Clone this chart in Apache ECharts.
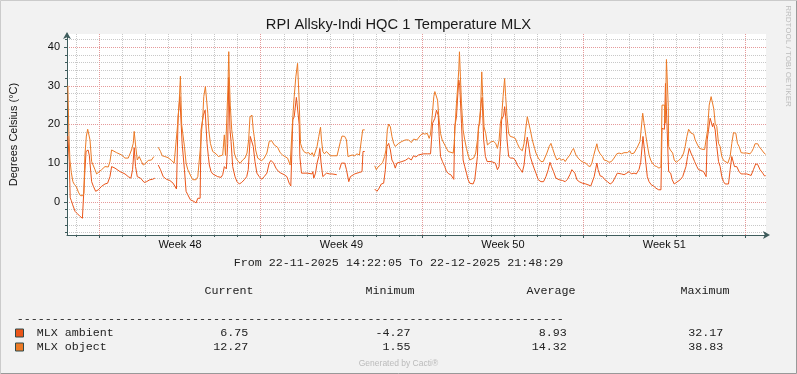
<!DOCTYPE html>
<html><head><meta charset="utf-8">
<script src="https://cdn.jsdelivr.net/npm/echarts@6/dist/echarts.min.js"></script>
<style>html,body{margin:0;padding:0;background:#F2F2F2}#c{width:797px;height:374px}</style>
</head><body><div id="c"></div>
<script>
// x values: hours since 2025-11-22 00:00 (graph runs 14:22:05 on 22-11 to 21:48:29 on 22-12)
const xStart = 14.368, xEnd = 741.81;
const dayLines = [24,72,96,120,144,168,192,240,264,288,312,336,360,408,432,456,480,504,528,576,600,624,648,672,696];
const mondayLines = [48,216,384,552,720];
const weekCenters = [132,300,468,636];
const weekLabels = ['Week 48','Week 49','Week 50','Week 51'];
const yMinorTicks = [-8,-6,-4,-2,2,4,6,8,12,14,16,18,22,24,26,28,32,34,36,38,42];
const yMajorTicks = [0,10,20,30,40];
const yMin = -8.6, yMax = 43.4;

const seriesNames = ['MLX ambient','MLX object'];
const seriesColors = ['#EA5519','#EC7A26'];
const statHeaders = ['Current','Minimum','Average','Maximum'];
const currentVals = ['6.75','12.27'];
const minimumVals = ['-4.27','1.55'];
const averageVals = ['8.93','14.32'];
const maximumVals = ['32.17','38.83'];

const objectData = [[15.3,30],[16.3,17.8],[17.4,10.8],[18.9,7.5],[20.5,5.2],[22.0,4.5],[24.1,3.9],[26.2,2.5],[28.3,1.6],[30.4,1.55],[31.9,2.2],[33.0,12],[34.5,17],[35.9,18.75],[38.3,16],[40.0,10.4],[41.8,10],[43.5,8.3],[45.2,7.2],[47.0,7.4],[50.4,8.3],[53.9,9.1],[57.3,9],[59.1,10.4],[60.8,13.4],[62.5,13.2],[66.0,12.7],[71.2,12.1],[74.7,11.3],[78.1,11.3],[81.5,13.4],[83.3,15.1],[84.3,18.2],[85.7,14.7],[87.5,10.8],[89.5,11.7],[91.9,10.4],[93.7,9.5],[96.5,10],[98.9,10.7],[102.3,10.8],[104.8,11.7],[107.0,null],[109.3,14.1],[111.7,13],[113.4,11.9],[116.2,11.7],[119.6,11.4],[123.1,10.7],[125.9,10],[127.4,9.5],[129.5,20],[131.1,25.5],[132.4,32.5],[133.1,32.5],[133.7,20],[136.6,14.3],[138.3,10],[140.1,8.3],[143.5,6.5],[145.3,5.7],[148.7,5.7],[150.5,6.5],[152.1,7],[153.2,14],[154.6,18.6],[155.7,22],[156.7,27.2],[158.4,29.8],[159.4,29.8],[160.9,22.9],[161.9,18.6],[163.6,15.1],[166.0,13],[167.7,12.7],[169.5,12.4],[171.9,11.7],[173.9,11.4],[176.4,12.1],[178.1,17.3],[179.3,12],[180.4,11.5],[181.9,30],[182.7,38.83],[183.3,32],[184.3,25],[185.8,18.6],[187.4,15.6],[188.5,12.6],[190.2,11.3],[192.6,10.4],[194.7,10],[197.2,10.8],[199.6,11.3],[201.7,12.6],[203.4,16],[204.8,22],[206.9,22.4],[208.2,18.6],[209.2,16.9],[210.7,13.4],[212.8,11.3],[214.4,10.8],[216.9,10.6],[219.6,11.3],[222.4,12.6],[224.8,15.6],[227.3,15.8],[230.0,14.7],[233.5,14.1],[236.2,12.7],[238.7,12.1],[241.1,11.7],[243.9,11.3],[246.6,9.5],[248.1,9.3],[249.4,22],[250.8,27.2],[252.5,32.3],[254.3,35.8],[255.1,35.8],[256.0,26],[256.7,20.3],[257.4,15.1],[259.1,13.8],[260.8,13],[263.2,12.6],[266.0,12.7],[267.8,12.1],[269.5,12.7],[271.2,11.7],[273.0,12.1],[274.6,14.3],[276.4,16.9],[278.2,19.3],[279.2,16],[280.6,13],[282.3,12.4],[284.4,13],[286.1,12.7],[288.6,11.9],[292.0,11.9],[295.4,11.9],[297.2,11.9],[298.9,15.6],[300.6,17],[303.4,16.9],[305.2,16],[306.8,11.7],[308.6,11.3],[311.0,12.1],[313.8,11.9],[316.2,12.4],[318.7,12.1],[320.7,12.6],[322.1,18.6],[324.2,18.6],[329,null],[334.6,9.3],[336.3,8.3],[338.0,9],[340.5,9.5],[342.9,10.2],[344.9,11.7],[346.3,13.4],[347.7,18.6],[349.1,20.1],[350.9,19.4],[352.5,16.9],[354.3,15.1],[356.0,14.3],[357.7,14.7],[359.5,15.1],[362.9,15.6],[366.4,16],[369.9,16],[372.7,15.3],[375.0,16.2],[378.5,16],[379.9,16.4],[381.6,17],[384.4,17.7],[386.8,17.5],[389.3,17.7],[391.3,16.4],[392.7,17.5],[394.5,22.4],[396.1,27.2],[397.2,28.5],[398.9,28.5],[400.0,26.3],[401.3,22],[403.1,17.7],[404.8,16],[407.5,14.7],[409.3,14.3],[411.1,13],[412.7,12.7],[416.3,12.6],[417.3,15],[418.3,19.9],[419.7,25.5],[420.7,28.9],[422.1,34.1],[422.8,38.8],[423.8,32.3],[424.9,25.5],[426.6,18.6],[428.3,16],[430.1,13.8],[431.8,12.1],[433.5,10.8],[435.3,10.4],[437.6,11.3],[439.7,12.6],[441.5,16],[443.3,20.3],[444.9,24.6],[446.0,33.6],[447.0,27.2],[448.4,19.4],[450.1,17.7],[451.9,14.7],[453.6,14.3],[456.0,15.6],[458.4,15.6],[460.5,15.1],[462.3,13.8],[464.0,15.9],[465.4,20.3],[466.7,22],[468.2,27.2],[469.8,31.9],[470.9,27.2],[472.3,22],[474.0,17.7],[475.7,16.9],[478.6,16.7],[480.9,16.4],[483.0,15.1],[485.4,13.8],[488.2,13.2],[490.0,15.1],[491.6,18.6],[493.4,22],[494.7,21.8],[496.5,18.6],[498.6,16],[501.0,13.8],[502.4,12.6],[504.8,11.3],[507.6,10.4],[510.0,10.4],[511.8,10.8],[513.8,12.6],[516.2,14.3],[518.0,15.1],[519.7,13.8],[522.2,11.9],[524.2,10.8],[526.6,11.3],[529.0,10.8],[531.1,11],[532.8,10.4],[535.2,11.3],[537.7,12.1],[539.8,13.2],[541.5,13.8],[544.0,12.1],[546.3,11.3],[549.1,10.6],[551.8,10.2],[554.3,10],[556.7,9.3],[558.8,9.1],[560.6,10],[562.2,11.7],[564.0,13.4],[565.8,15],[567.1,13.4],[569.2,12.4],[571.6,11.7],[573.3,10.8],[576.1,10.6],[578.5,10.2],[580.9,10.4],[583.7,11.3],[586.5,12.4],[588.9,12.6],[591.3,12.4],[594.1,12.7],[597.5,12.7],[600.0,13.2],[601.7,12.4],[604.5,12.6],[606.2,12.4],[607.9,14.1],[610.7,15.6],[612.1,16],[613.5,22.9],[614.9,20.3],[616.9,16.9],[618.3,14.7],[620.1,12.1],[621.8,10.8],[623.5,10],[626.0,9.3],[628.1,9.1],[630.4,8.7],[632.5,9],[633.6,25],[636.1,25],[637.0,20.3],[638.2,36.8],[639.5,36.8],[640.1,24.6],[640.5,14.3],[642.2,13.4],[644.7,12.6],[646.3,10.8],[648.4,10.2],[650.9,10.7],[653.6,11.3],[656.1,12.6],[657.7,14.3],[659.5,16.9],[661.3,18.75],[662.9,18.6],[664.0,17.7],[666.5,17.5],[668.1,16],[670.6,14.7],[672.7,13.8],[675.1,13.6],[677.9,13.5],[679.5,13.4],[681.0,18.6],[682.7,25],[684.7,27.2],[686.5,27.6],[687.5,24],[688.9,20.3],[690.6,19.5],[692.4,15.1],[694.1,14.3],[695.8,11.7],[697.6,10.7],[699.3,10.2],[702.1,10],[704.5,11.7],[706.2,15.1],[708.0,17.9],[710.4,17.7],[712.1,15.1],[713.8,14.3],[715.9,12.7],[718.4,12.6],[721.8,12.6],[725.2,12.4],[727.0,13],[728.7,13.8],[730.4,15],[733.2,15],[734.6,14.3],[737.4,13.4],[739.8,12.6],[741.5,12.27]];

const ambientData = [[15.3,17],[16.7,10.5],[17.7,1],[18.9,0.3],[20.3,-0.8],[22.8,-2.5],[25.2,-3.1],[28.0,-3.8],[30.4,-4.27],[32.1,-4],[33.0,8],[34.2,13],[36.3,13.4],[37.6,12],[40.0,5.2],[41.8,4],[44.2,2.7],[47.0,3.1],[50.4,4],[53.9,4.6],[56.6,4.8],[59.1,6.5],[60.8,9.1],[64.3,8.7],[69.5,7.8],[74.7,7.2],[78.1,6.5],[80.9,6.1],[82.6,8.3],[84.3,14],[85.7,9.1],[87.5,6.5],[90.9,6.1],[94.7,5],[97.1,5.2],[100.6,5.7],[103.3,5.8],[105.8,6.1],[107.5,null],[109.3,9.5],[111.7,8.3],[114.5,6.5],[117.9,5.8],[121.4,5.5],[124.8,4.8],[126.6,4.4],[128.3,3.3],[130.0,22],[131.8,27.2],[133.1,27],[134.2,15],[136.6,8.3],[138.3,2.7],[140.1,1.8],[142.8,0.5],[146.3,0.1],[148.7,-0.3],[150.5,0.9],[152.9,0.9],[153.9,18.6],[156.3,22.4],[158.1,23.7],[160.1,15.1],[161.5,11.7],[162.5,9.5],[164.3,7.8],[166.0,7.2],[167.7,7],[171.2,6.5],[174.7,6.3],[176.4,7],[178.1,9.1],[180.2,8.5],[181.6,15],[182.7,32.17],[184.0,18.6],[185.1,15.6],[186.8,9.1],[189.2,6.5],[191.3,5.2],[193.7,4.6],[196.2,5],[198.9,5.7],[201.4,6.5],[203.0,8.3],[205.1,16.9],[206.5,17.3],[208.2,14.3],[210.0,10.4],[212.0,7.4],[214.4,6.5],[216.9,5.8],[219.6,6.5],[222.4,7.4],[224.8,10],[226.6,10.7],[229.4,10],[231.8,8.7],[234.6,7.8],[237.0,7.4],[240.4,7],[243.2,6.5],[245.6,4.8],[247.3,4.1],[248.4,4.1],[249.4,21.2],[250.8,22],[253.1,27],[256.0,20],[256.7,11.7],[258.4,7.4],[259.8,7.4],[264.3,7.4],[269.5,7.2],[270.2,7.8],[271.2,6.1],[273.0,7.4],[274.6,10],[276.4,11.7],[277.5,13.8],[278.8,10],[280.6,6.5],[282.6,6.5],[284.4,7.4],[286.1,7.8],[287.8,7.2],[290.2,7.2],[292.0,7],[295.1,7],[296.5,null],[297.9,8.3],[300.0,10],[301.6,10.2],[303.4,10],[305.2,8.3],[307.6,5.2],[309.3,6.5],[311.0,7],[313.8,7.2],[316.2,7.4],[319.0,7.6],[321.4,7.8],[322.4,13],[324.2,13],[329,null],[334.6,3.3],[336.9,2.7],[338.7,3.3],[341.5,4.6],[343.9,4.8],[345.7,8.3],[347.3,14.3],[349.1,15.1],[350.9,13.4],[352.5,10.8],[354.3,10],[356.0,8.7],[357.7,10],[359.5,10.4],[362.9,10.4],[366.4,10.7],[369.9,11.3],[372.7,10.8],[375.0,11.9],[377.4,11.6],[380.2,12.1],[382.0,12.6],[385.1,12.4],[386.8,12.1],[389.3,12.4],[391.3,12.1],[392.7,12.4],[393.7,16],[394.8,20.3],[397.2,21.6],[398.9,23.7],[400.7,22.4],[401.7,16.9],[403.1,11.7],[405.1,10.4],[407.5,9.1],[409.3,7.8],[411.7,7.2],[413.8,7],[415.5,6.5],[416.9,5.8],[417.9,19.4],[419.7,22],[420.7,26.3],[422.1,31.5],[423.1,30],[424.9,20.3],[426.6,10.8],[428.3,9.1],[430.1,7.4],[431.8,5.7],[433.5,4.8],[435.3,4.6],[437.0,4.6],[438.7,5.7],[440.4,6.1],[441.5,11.7],[442.5,19.4],[443.9,20.3],[445.3,25.5],[446.4,27],[448.0,16],[449.8,11.7],[451.6,10.4],[453.6,10.6],[456.0,10.4],[457.8,10.2],[460.2,10],[462.3,8.3],[464.0,9.1],[465.4,14.3],[466.7,21.2],[468.8,22.4],[469.8,24.6],[470.9,22],[472.3,16],[474.0,11.7],[476.1,11.3],[478.6,11.3],[480.9,10.8],[483.0,9.5],[484.8,9.1],[486.4,8.3],[488.2,7.6],[490.0,9.5],[491.6,13.4],[493.4,16.7],[494.7,14.7],[496.5,11.7],[498.6,10],[500.4,8.7],[502.4,7.4],[504.8,5.7],[507.6,5.2],[510.3,5.2],[512.8,6.5],[515.2,8.3],[517.0,10.2],[518.6,9.1],[520.7,7.8],[523.2,6.1],[526.6,5.7],[530.0,5.5],[532.8,5.2],[535.2,5.8],[537.7,7],[539.8,8.3],[541.5,8.7],[542.9,7.4],[545.0,5.7],[547.4,5.2],[550.8,4.8],[554.3,4.6],[556.0,4.1],[559.5,4.1],[561.2,4.6],[563.0,6.5],[564.7,8.7],[565.8,10],[567.1,8.3],[569.2,6.7],[571.6,6.5],[574.1,5.7],[576.8,5.2],[579.6,4.6],[582.0,5],[584.4,6.1],[587.1,7.4],[588.9,7.8],[591.3,7.2],[594.1,7],[596.9,7.4],[599.3,7.8],[601.7,7.2],[604.5,7.4],[606.9,7.2],[609.7,8.4],[611.4,10.2],[613.8,16.9],[615.9,12],[618.3,6.5],[620.1,5.2],[622.4,4.4],[625.2,4],[627.3,3.5],[630.1,3.1],[632.5,3.1],[633.6,19],[636.1,18.75],[637.2,30.6],[638.7,30.2],[640.5,7.8],[642.6,7.4],[644.2,5.7],[646.3,4.6],[648.1,4.8],[652.6,5.7],[655.1,6.5],[656.7,7],[658.5,9.1],[660.2,11.7],[661.9,13.8],[663.7,12.6],[665.4,11.7],[667.5,10.4],[669.9,9.1],[671.6,8.3],[674.3,8.1],[676.8,7.8],[678.5,7.8],[679.5,6.5],[680.6,16],[682.0,18.6],[683.7,21.6],[684.7,21.2],[686.2,19.4],[687.2,20.3],[688.9,18.6],[690.6,14.3],[692.4,10.4],[694.1,9.1],[695.8,6.5],[697.6,5.2],[699.3,4.6],[701.0,4.1],[702.8,4.6],[704.5,8.3],[706.2,11.7],[707.6,12.1],[709.0,9.1],[711.4,9.1],[713.8,7.8],[715.9,7.2],[718.4,7.2],[721.8,7.2],[724.2,7],[726.3,6.8],[728.7,8.3],[731.1,9.8],[733.2,9.6],[735.6,8.3],[738.4,7.4],[740.2,6.7],[741.5,6.75]];

const AXIS = '#3E5C5C';
const GRIDC = '#C8C8C8';
const MGRIDC = '#E59A9A';
const SANS = '"Liberation Sans", Arial, sans-serif';
const MONO = '"Liberation Mono", "Courier New", monospace';
const prep = d => d.map(p => [p[0], p[1] === null ? '-' : p[1]]);

const chart = echarts.init(document.getElementById('c'));

const g = [];
g.push({type:'polyline', shape:{points:[[0.5,373],[0.5,0.5],[796,0.5]]}, style:{stroke:'#CBCBCB', lineWidth:1, fill:null}, silent:true});
g.push({type:'polyline', shape:{points:[[796.5,0.5],[796.5,373.5],[0.5,373.5]]}, style:{stroke:'#999999', lineWidth:1, fill:null}, silent:true});
g.push({type:'text', x:788, y:56, rotation:-Math.PI/2, style:{text:'RRDTOOL / TOBI OETIKER', font:'8px '+SANS, fill:'#BDBDBD', align:'center', verticalAlign:'middle'}});
g.push({type:'text', x:398.5, y:263, style:{text:'From 22-11-2025 14:22:05 To 22-12-2025 21:48:29', font:'11.7px '+MONO, fill:'#222', align:'center', verticalAlign:'middle'}});
const headerX = [229, 390, 551, 705];
statHeaders.forEach((h,i)=>g.push({type:'text', x:headerX[i], y:291, style:{text:h, font:'11.7px '+MONO, fill:'#222', align:'center', verticalAlign:'middle'}}));
g.push({type:'text', x:16.7, y:319, style:{text:'-'.repeat(78), font:'11.7px '+MONO, fill:'#222', align:'left', verticalAlign:'middle'}});
const valX = [248.3, 410.5, 566.7, 723.3];
const cols = [currentVals, minimumVals, averageVals, maximumVals];
seriesNames.forEach((n,r)=>{
  const y = 333 + r*14;
  g.push({type:'rect', shape:{x:15.5, y:y-4, width:8, height:8}, style:{fill:seriesColors[r], stroke:'#2F4A4A', lineWidth:1}});
  g.push({type:'text', x:36.7, y:y, style:{text:n, font:'11.7px '+MONO, fill:'#222', align:'left', verticalAlign:'middle'}});
  cols.forEach((c,i)=>g.push({type:'text', x:valX[i], y:y, style:{text:c[r], font:'11.7px '+MONO, fill:'#222', align:'right', verticalAlign:'middle'}}));
});
g.push({type:'text', x:398.5, y:363.5, style:{text:'Generated by Cacti®', font:'8.5px '+SANS, fill:'#BBBBBB', align:'center', verticalAlign:'middle'}});

chart.setOption({
  backgroundColor:'#F2F2F2',
  animation:false,
  title:{text:'RPI Allsky-Indi HQC 1 Temperature MLX', left:'center', top:12, textStyle:{fontFamily:SANS, fontSize:14.7, fontWeight:'normal', color:'#1a1a1a'}},
  grid:{left:66, right:31, top:34, bottom:139, show:true, backgroundColor:'#FFFFFF', borderWidth:0},
  xAxis:[
    {type:'value', min:xStart, max:xEnd, position:'bottom',
     axisLine:{show:true, onZero:false, lineStyle:{color:AXIS, width:1}, symbol:['none','arrow'], symbolSize:[6,7], symbolOffset:[0,4]},
     axisTick:{show:true, length:2, customValues:dayLines, lineStyle:{color:AXIS}},
     splitLine:{show:true, lineStyle:{color:GRIDC, width:1, type:[1,1]}},
     axisLabel:{show:true, customValues:weekCenters, margin:4, fontFamily:SANS, fontSize:11, color:'#111',
       formatter:v=>{let k=0;weekCenters.forEach((c,i)=>{if(Math.abs(c-v)<Math.abs(weekCenters[k]-v))k=i;});return weekLabels[k];}}},
    {type:'value', min:xStart, max:xEnd, position:'bottom',
     axisLine:{show:false, onZero:false}, axisTick:{show:true, length:3, customValues:mondayLines, lineStyle:{color:AXIS}},
     splitLine:{show:true, lineStyle:{color:MGRIDC, width:1, type:[1,1]}}, axisLabel:{show:false}}
  ],
  yAxis:[
    {type:'value', min:yMin, max:yMax, position:'left',
     axisLine:{show:true, onZero:false, lineStyle:{color:AXIS, width:1}, symbol:['none','arrow'], symbolSize:[6,7], symbolOffset:[0,2]},
     axisTick:{show:true, length:2, customValues:yMinorTicks, lineStyle:{color:AXIS}},
     splitLine:{show:true, lineStyle:{color:GRIDC, width:1, type:[1,1]}}, axisLabel:{show:false}},
    {type:'value', min:yMin, max:yMax, position:'left',
     name:'Degrees Celsius (°C)', nameLocation:'middle', nameGap:48, nameRotate:90,
     nameTextStyle:{fontFamily:SANS, fontSize:11, color:'#111'},
     axisLine:{show:false, onZero:false}, axisTick:{show:true, length:3, customValues:yMajorTicks, lineStyle:{color:AXIS}},
     splitLine:{show:true, lineStyle:{color:MGRIDC, width:1, type:[1,1]}},
     axisLabel:{show:true, customValues:yMajorTicks, margin:7, fontFamily:SANS, fontSize:11, color:'#111'}}
  ],
  series:[
    {name:seriesNames[0], type:'line', xAxisIndex:0, yAxisIndex:0, data:prep(ambientData), showSymbol:false, connectNulls:false,
     lineStyle:{color:seriesColors[0], width:1}, itemStyle:{color:seriesColors[0]}, z:3},
    {name:seriesNames[1], type:'line', xAxisIndex:0, yAxisIndex:0, data:prep(objectData), showSymbol:false, connectNulls:false,
     lineStyle:{color:seriesColors[1], width:1}, itemStyle:{color:seriesColors[1]}, z:4}
  ],
  graphic:g
});
</script></body></html>
